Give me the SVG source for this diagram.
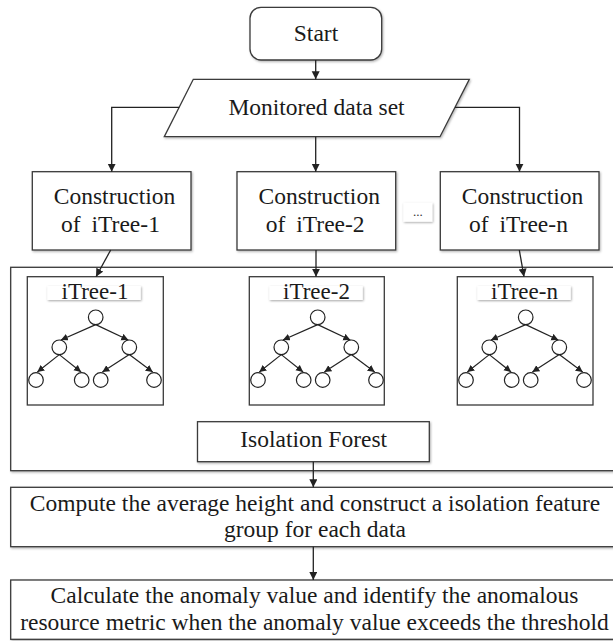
<svg xmlns="http://www.w3.org/2000/svg" xmlns:xlink="http://www.w3.org/1999/xlink" width="613" height="641" viewBox="0 0 613 641">
<defs>
<style>
.box{fill:#fff;stroke:#3a3a3a;stroke-width:1.3;filter:url(#sh)}
.plain{fill:none;stroke:#3a3a3a;stroke-width:1.3}
.lbl{fill:#fff;stroke:none;filter:url(#sh2)}
.t{font-family:"Liberation Serif","Times New Roman",serif;font-size:23.5px;fill:#1a1a1a;text-anchor:middle}
.lt{font-family:"Liberation Serif","Times New Roman",serif;font-size:23px;fill:#1a1a1a;text-anchor:middle}
.dots{font-family:"Liberation Serif","Times New Roman",serif;font-size:13px;fill:#333;text-anchor:middle}
.conn{fill:none;stroke:#222;stroke-width:1.3;marker-end:url(#ah)}
.tconn{fill:none;stroke:#222;stroke-width:1.2;marker-end:url(#ah2)}
.nd{fill:#fff;stroke:#222;stroke-width:1.2}
</style>
<filter id="sh" x="-5%" y="-5%" width="110%" height="115%">
<feDropShadow dx="1" dy="1.2" stdDeviation="0.8" flood-color="#000" flood-opacity="0.3"/>
</filter>
<filter id="sh2" x="-10%" y="-20%" width="120%" height="150%">
<feDropShadow dx="0.8" dy="1" stdDeviation="0.8" flood-color="#000" flood-opacity="0.35"/>
</filter>
<marker id="ah" markerUnits="userSpaceOnUse" markerWidth="10" markerHeight="10" refX="8" refY="4" orient="auto">
<path d="M0,0 L8,4 L0,8 Z" fill="#222"/>
</marker>
<marker id="ah2" markerUnits="userSpaceOnUse" markerWidth="10" markerHeight="10" refX="7" refY="3.5" orient="auto">
<path d="M0,0 L7,3.5 L0,7 Z" fill="#222"/>
</marker>
<g id="tree">
<path class="tconn" d="M68.4,324.6 L33.6,340"/>
<path class="tconn" d="M68.4,324.6 L101,340"/>
<path class="tconn" d="M32,354.6 L10,372"/>
<path class="tconn" d="M32,354.6 L53.8,372"/>
<path class="tconn" d="M102,354.6 L75,372"/>
<path class="tconn" d="M102,354.6 L125.4,372"/>
<circle class="nd" cx="68.4" cy="317.3" r="7.3"/>
<circle class="nd" cx="32" cy="347.3" r="7.3"/>
<circle class="nd" cx="102" cy="347.3" r="7.3"/>
<circle class="nd" cx="8.7" cy="380" r="7.3"/>
<circle class="nd" cx="54.4" cy="380" r="7.3"/>
<circle class="nd" cx="73.4" cy="380" r="7.3"/>
<circle class="nd" cx="126.7" cy="380" r="7.3"/>
</g>
</defs>
<rect width="613" height="641" fill="#fff"/>

<g id="forest-frame">
<rect class="box" x="10.7" y="267.3" width="604" height="203.4"/>
</g>

<g id="start">
<rect class="box" x="250" y="7.3" width="131.7" height="52.7" rx="11" ry="11"/>
<text class="t" x="316" y="41">Start</text>
</g>

<g id="dataset">
<polygon class="box" points="193.3,79.3 469.3,79.3 440,136.7 164.3,136.7"/>
<text class="t" x="316.5" y="115">Monitored data set</text>
</g>

<g id="construct1">
<rect class="box" x="32.3" y="171.7" width="158.7" height="78.3"/>
<text class="t" x="114.5" y="204.3">Construction</text>
<text class="t" x="110.5" y="231.7" word-spacing="5">of iTree-1</text>
</g>
<g id="construct2">
<rect class="box" x="237" y="171.7" width="158.7" height="78.3"/>
<text class="t" x="319.2" y="204.3">Construction</text>
<text class="t" x="315.2" y="231.7" word-spacing="5">of iTree-2</text>
</g>
<g id="construct3">
<rect class="box" x="440.3" y="171.7" width="158.7" height="78.3"/>
<text class="t" x="522.5" y="204.3">Construction</text>
<text class="t" x="518.5" y="231.7" word-spacing="5">of iTree-n</text>
</g>

<g id="ellipsis">
<rect class="lbl" x="403.3" y="202.7" width="29" height="19"/>
<text class="dots" x="417.8" y="216">...</text>
</g>

<g id="itree1">
<rect class="plain" x="27.3" y="276.7" width="136" height="128.3"/>
<rect class="lbl" x="47.3" y="286" width="93.4" height="14"/>
<text class="lt" x="95" y="299">iTree-1</text>
<use xlink:href="#tree" transform="translate(27.3,0)"/>
</g>
<g id="itree2">
<rect class="plain" x="249.3" y="276.7" width="135" height="128.3"/>
<rect class="lbl" x="269.3" y="286" width="93.4" height="14"/>
<text class="lt" x="316.5" y="299">iTree-2</text>
<use xlink:href="#tree" transform="translate(249.3,0)"/>
</g>
<g id="itree3">
<rect class="plain" x="457.3" y="276.7" width="135.7" height="128.3"/>
<rect class="lbl" x="477.3" y="286" width="93.4" height="14"/>
<text class="lt" x="524.5" y="299">iTree-n</text>
<use xlink:href="#tree" transform="translate(457.3,0)"/>
</g>

<g id="isolation-forest">
<rect class="box" x="197.5" y="421.7" width="231.8" height="40"/>
<text class="t" x="313.7" y="447.3">Isolation Forest</text>
</g>

<g id="compute">
<rect class="box" x="10.7" y="487.3" width="604" height="59.4"/>
<text class="t" x="315" y="511">Compute the average height and construct a isolation feature</text>
<text class="t" x="315" y="536.7">group for each data</text>
</g>

<g id="calculate">
<rect class="box" x="10.7" y="580" width="604" height="59.3"/>
<text class="t" x="314.5" y="603.3">Calculate the anomaly value and identify the anomalous</text>
<text class="t" x="314.5" y="630">resource metric when the anomaly value exceeds the threshold</text>
</g>

<g id="connectors">
<path class="conn" d="M315.7,60 L315.7,79.3"/>
<path class="conn" d="M179.2,107.3 L111.7,107.3 L111.7,171.7"/>
<path class="conn" d="M315.7,136.7 L315.7,171.7"/>
<path class="conn" d="M455,107.3 L519.5,107.3 L519.5,171.7"/>
<path class="conn" d="M110.7,250 L96,276.7"/>
<path class="conn" d="M316,250 L316,276.7"/>
<path class="conn" d="M519.3,250 L524,276.7"/>
<path class="conn" d="M313.3,461.7 L313.3,487.3"/>
<path class="conn" d="M313.3,546.7 L313.3,580"/>
</g>
</svg>
